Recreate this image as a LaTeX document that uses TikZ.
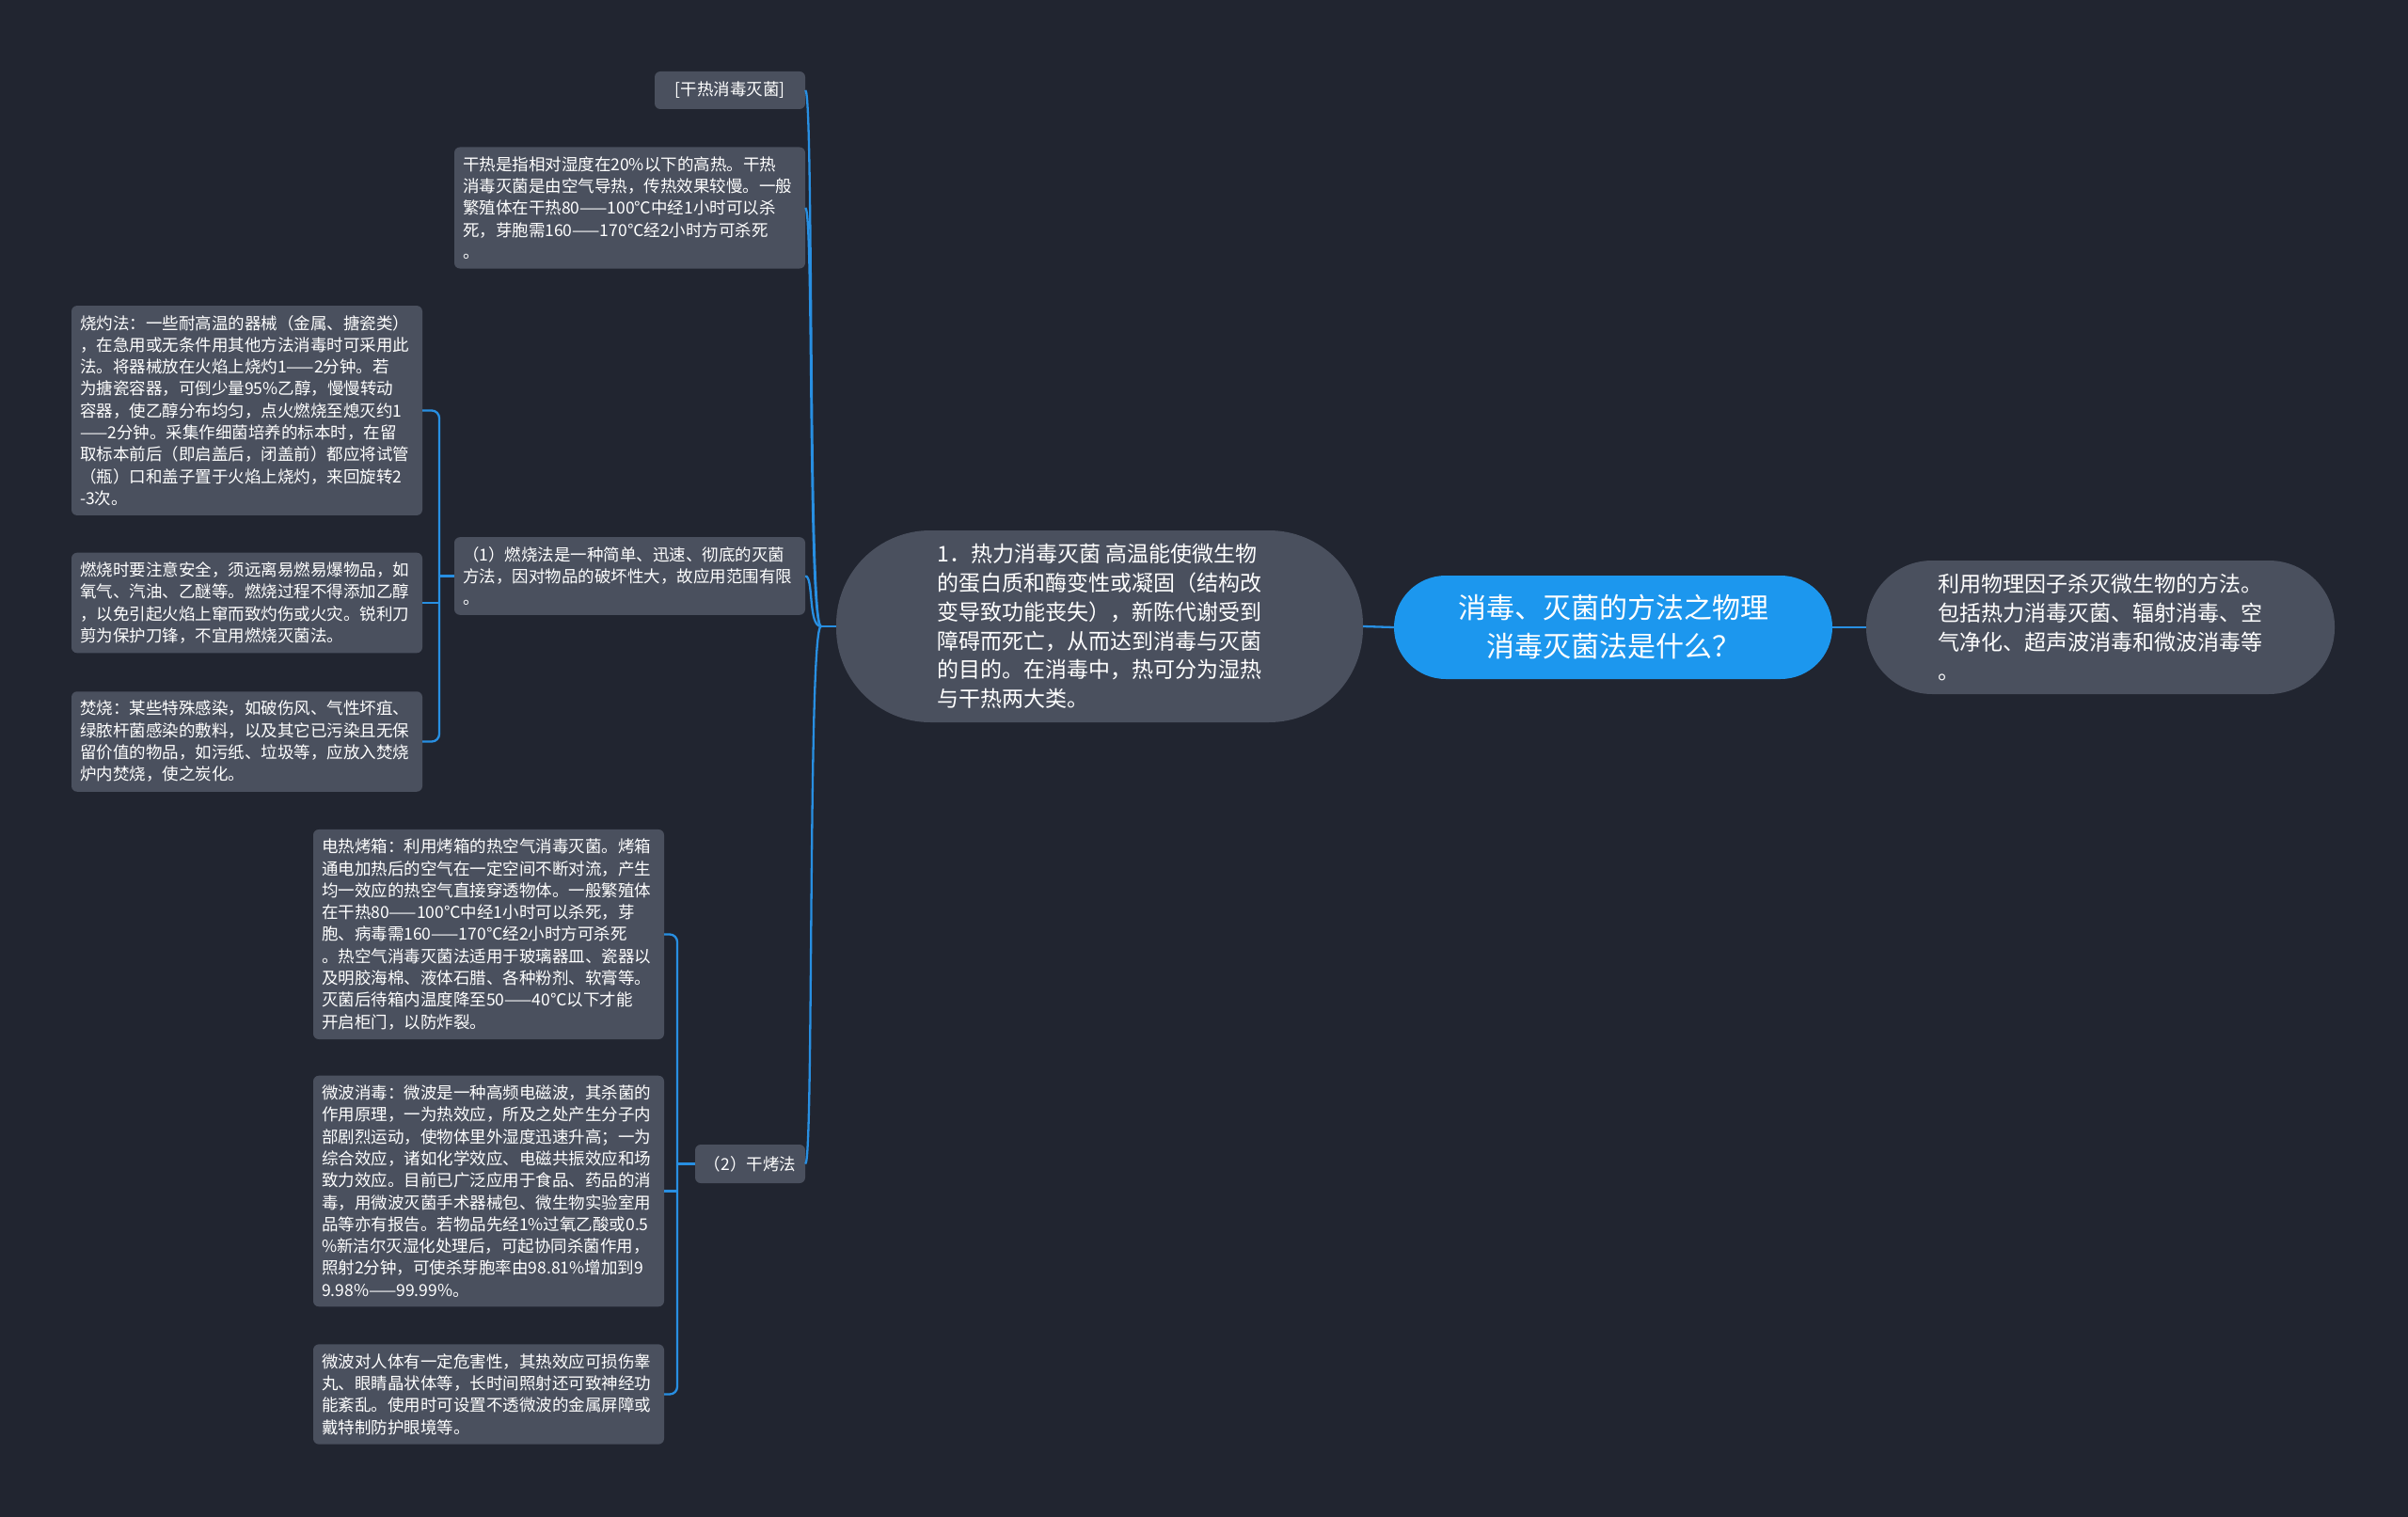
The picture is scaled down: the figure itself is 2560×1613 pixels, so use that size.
\documentclass[tikz,border=0pt]{standalone}
\usepackage{fontspec}
\setmainfont{Noto Sans CJK SC}
\usetikzlibrary{positioning,calc}
\definecolor{bgdark}{RGB}{33,37,48}
\definecolor{boxgray}{RGB}{74,80,94}
\definecolor{topblue}{RGB}{28,151,238}
\definecolor{linkblue}{RGB}{40,143,226}

\tikzset{
  leaf/.style={fill=boxgray,rounded corners=6pt,text=white,align=left,
    font=\fontsize{17.5}{23.3}\selectfont,text width=355pt,inner xsep=9pt,inner ysep=10pt},
  tag/.style={fill=boxgray,rounded corners=6pt,text=white,inner sep=0pt,
    font=\fontsize{17.5}{23.3}\selectfont,minimum height=40pt},
  link/.style={draw=linkblue,line width=2.3pt}
}

\begin{document}
\begin{tikzpicture}[x=1pt,y=-1pt]
% background
\fill[bgdark] (0,0) rectangle (2560,1613);

% root and first level
\node[fill=topblue,rounded corners=55pt,text=white,align=center,minimum width=466pt,minimum height=110pt,
  font=\fontsize{30}{41}\selectfont] (root) at (1715,667) {消毒、灭菌的方法之物理\\消毒灭菌法是什么？};
\node[fill=boxgray,rounded corners=70pt,text=white,align=left,minimum width=498pt,minimum height=142pt,
  font=\fontsize{23}{31}\selectfont] (phys) at (2233,667) {利用物理因子杀灭微生物的方法。\\包括热力消毒灭菌、辐射消毒、空\\气净化、超声波消毒和微波消毒等\\。};
\node[fill=boxgray,rounded corners=100pt,text=white,align=left,minimum width=560pt,minimum height=204pt,
  font=\fontsize{23}{30.7}\selectfont] (heat) at (1169,666) {1．热力消毒灭菌 高温能使微生物\\的蛋白质和酶变性或凝固（结构改\\变导致功能丧失），新陈代谢受到\\障碍而死亡，从而达到消毒与灭菌\\的目的。在消毒中，热可分为湿热\\与干热两大类。};

% second level
\node[tag,minimum width=160pt] (dry) at (776,96) {[干热消毒灭菌]};
\node[leaf] (drydef) at (669.5,221) {干热是指相对湿度在20\%以下的高热。干热\\消毒灭菌是由空气导热，传热效果较慢。一般\\繁殖体在干热80——100℃中经1小时可以杀\\死，芽胞需160——170℃经2小时方可杀死\\。};
\node[leaf] (burn) at (669.5,612.5) {（1）燃烧法是一种简单、迅速、彻底的灭菌\\方法，因对物品的破坏性大，故应用范围有限\\。};
\node[tag,minimum width=117pt,minimum height=41pt] (bake) at (797.5,1237.5) {（2）干烤法};

% burning leaves
\node[leaf] (burnA) at (262.5,436.5) {烧灼法：一些耐高温的器械（金属、搪瓷类）\\，在急用或无条件用其他方法消毒时可采用此\\法。将器械放在火焰上烧灼1——2分钟。若\\为搪瓷容器，可倒少量95\%乙醇，慢慢转动\\容器，使乙醇分布均匀，点火燃烧至熄灭约1\\——2分钟。采集作细菌培养的标本时，在留\\取标本前后（即启盖后，闭盖前）都应将试管\\（瓶）口和盖子置于火焰上烧灼，来回旋转2\\-3次。};
\node[leaf] (burnB) at (262.5,641) {燃烧时要注意安全，须远离易燃易爆物品，如\\氧气、汽油、乙醚等。燃烧过程不得添加乙醇\\，以免引起火焰上窜而致灼伤或火灾。锐利刀\\剪为保护刀锋，不宜用燃烧灭菌法。};
\node[leaf] (burnC) at (262.5,788.5) {焚烧：某些特殊感染，如破伤风、气性坏疽、\\绿脓杆菌感染的敷料，以及其它已污染且无保\\留价值的物品，如污纸、垃圾等，应放入焚烧\\炉内焚烧，使之炭化。};

% baking leaves
\node[leaf] (bakeA) at (519.5,993.5) {电热烤箱：利用烤箱的热空气消毒灭菌。烤箱\\通电加热后的空气在一定空间不断对流，产生\\均一效应的热空气直接穿透物体。一般繁殖体\\在干热80——100℃中经1小时可以杀死，芽\\胞、病毒需160——170℃经2小时方可杀死\\。热空气消毒灭菌法适用于玻璃器皿、瓷器以\\及明胶海棉、液体石腊、各种粉剂、软膏等。\\灭菌后待箱内温度降至50——40℃以下才能\\开启柜门，以防炸裂。};
\node[leaf] (bakeB) at (519.5,1266.5) {微波消毒：微波是一种高频电磁波，其杀菌的\\作用原理，一为热效应，所及之处产生分子内\\部剧烈运动，使物体里外湿度迅速升高；一为\\综合效应，诸如化学效应、电磁共振效应和场\\致力效应。目前已广泛应用于食品、药品的消\\毒，用微波灭菌手术器械包、微生物实验室用\\品等亦有报告。若物品先经1\%过氧乙酸或0.5\\\%新洁尔灭湿化处理后，可起协同杀菌作用，\\照射2分钟，可使杀芽胞率由98.81\%增加到9\\9.98\%——99.99\%。};
\node[leaf] (bakeC) at (519.5,1482.5) {微波对人体有一定危害性，其热效应可损伤睾\\丸、眼睛晶状体等，长时间照射还可致神经功\\能紊乱。使用时可设置不透微波的金属屏障或\\戴特制防护眼境等。};

% connectors
\draw[link] (root.west) -- (heat.east);
\draw[link] (root.east) -- (phys.west);
\coordinate (hub) at ($(heat.west)+(-16,0)$);
\draw[link] (heat.west) -- (hub);
\foreach \n in {dry,drydef,burn,bake}
  \draw[link] (hub) .. controls +(-14,0) and +(9,0) .. (\n.east);

\coordinate (jb) at (467,612.5);
\draw[link] (burn.west) -- (jb);
\draw[link,rounded corners=8pt] (burnA.east) -| (jb) |- (burnC.east);
\draw[link] (burnB.east) -- (burnB.east -| jb);

\coordinate (jk) at (720,1237.5);
\draw[link] (bake.west) -- (jk);
\draw[link,rounded corners=8pt] (bakeA.east) -| (jk) |- (bakeC.east);
\draw[link] (bakeB.east) -- (bakeB.east -| jk);
\end{tikzpicture}
\end{document}
